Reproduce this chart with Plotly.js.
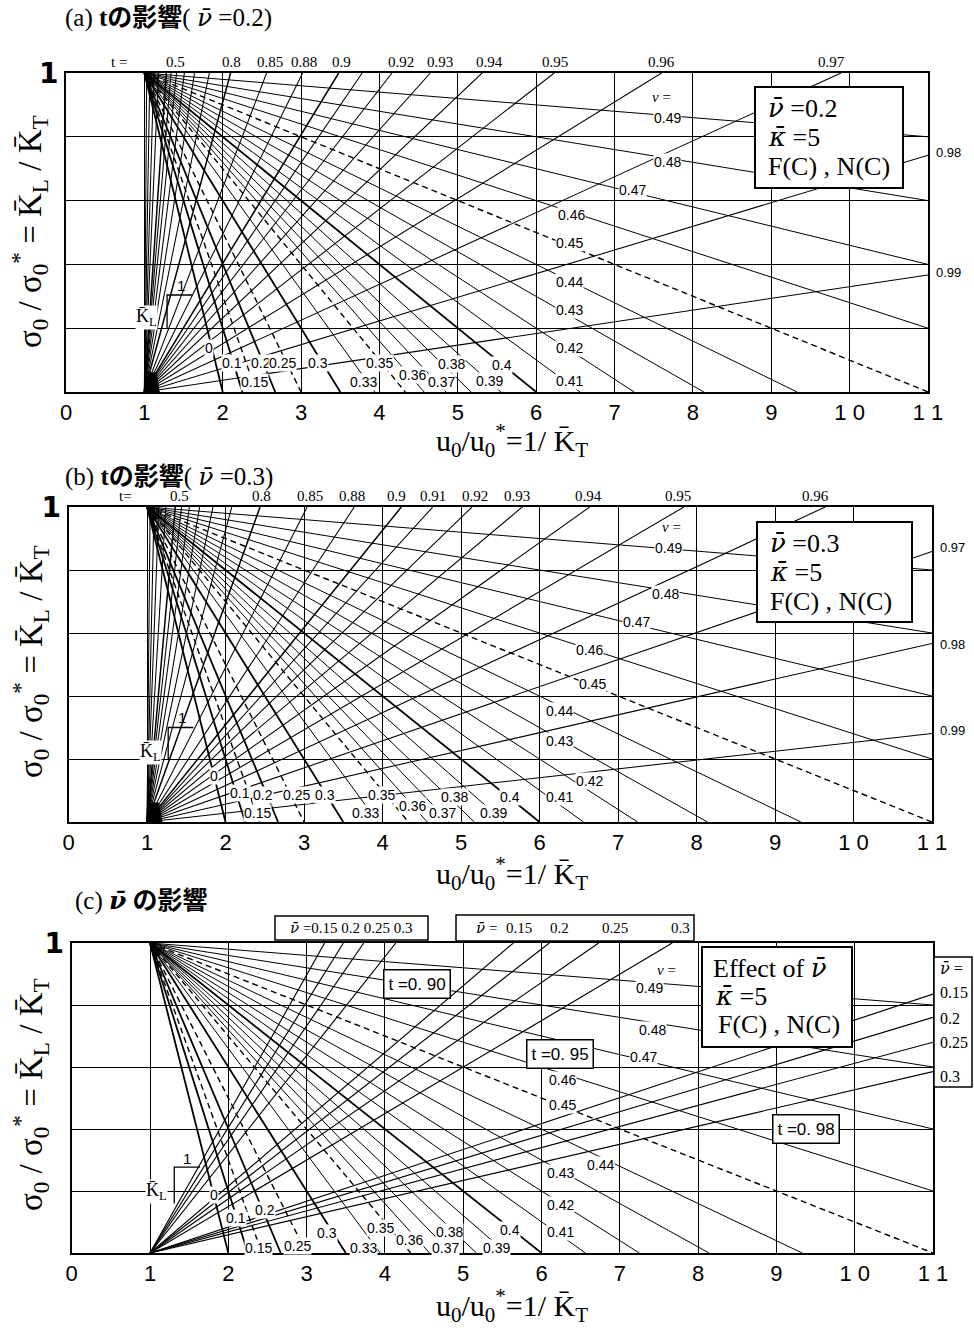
<!DOCTYPE html>
<html><head><meta charset="utf-8">
<script src="https://cdn.plot.ly/plotly-3.0.1.min.js"></script>
<style>body{margin:0;background:#fff}#chart{width:974px;height:1328px}</style>
</head><body><div id="chart"></div>
<script>
// ---------- data ----------
// nu lines start at (1,1); end points read where each line leaves the frame
const nuValues = [0,0.1,0.15,0.2,0.25,0.3,0.33,0.35,0.36,0.37,0.38,0.39,0.4,0.41,0.42,0.43,0.44,0.45,0.46,0.47,0.48,0.49];
const nuEndX   = [2,2.25,2.43,2.67,3,3.5,3.94,4.33,4.57,4.85,5.17,5.55,6,6.56,7.25,8.14,9.33,11,11,11,11,11];
const nuEndY   = [0,0,0,0,0,0,0,0,0,0,0,0,0,0,0,0,0,0,0.2,0.4,0.6,0.8];
const nuBold   = [0,0.1,0.2,0.3,0.4];
const nuDashed = [0.15,0.25,0.35,0.45];

// t lines start at (1,0)
const tValuesA = [0.1,0.2,0.3,0.4,0.5,0.55,0.6,0.65,0.7,0.75,0.8,0.85,0.88,0.9,0.91,0.92,0.93,0.94,0.95,0.96,0.97,0.98,0.99];
const tEndXA   = [1.03,1.07,1.12,1.18,1.28,1.34,1.41,1.51,1.64,1.83,2.10,2.56,3.02,3.48,3.78,4.16,4.65,5.31,6.23,7.60,9.89,11,11];
const tEndYA   = [1,1,1,1,1,1,1,1,1,1,1,1,1,1,1,1,1,1,1,1,1,0.742,0.367];

const tValuesB = [0.1,0.2,0.3,0.4,0.5,0.55,0.6,0.65,0.7,0.75,0.8,0.85,0.88,0.9,0.91,0.92,0.93,0.94,0.95,0.96,0.97,0.98,0.99];
const tEndXB   = [1.04,1.09,1.15,1.24,1.36,1.44,1.54,1.67,1.84,2.08,2.44,3.04,3.64,4.24,4.64,5.14,5.78,6.64,7.84,9.64,11,11,11];
const tEndYB   = [1,1,1,1,1,1,1,1,1,1,1,1,1,1,1,1,1,1,1,1,0.859,0.567,0.281];

// panel (c): nu-bar = 0.15, 0.2, 0.25, 0.3 for t = 0.90, 0.95, 0.98
const nuBarC   = [0.15,0.2,0.25,0.3];
const tC       = [0.90,0.95,0.98];
const tEndXC   = [[3.23,3.47,3.73,4.14],[5.64,6.10,6.73,7.67],[11,11,11,11]];
const tEndYC   = [[1,1,1,1],[1,1,1,1],[0.835,0.76,0.68,0.585]];

// tick labels
const xTickVals = [0,1,2,3,4,5,6,7,8,9,10,11];
const xTickText = ['0','1','2','3','4','5','6','7','8','9','1 0','1 1'];
const yTickVals = [1];
const yTickText = ['1'];
const yGridVals = [0.2,0.4,0.6,0.8];

// t labels along the top / right edge
const topLabA = ['t =','0.5','0.8','0.85','0.88','0.9','0.92','0.93','0.94','0.95','0.96','0.97'];
const topLabB = ['t=','0.5','0.8','0.85','0.88','0.9','0.91','0.92','0.93','0.94','0.95','0.96'];
const rightLabA = ['0.98','0.99'];
const rightLabB = ['0.97','0.98','0.99'];

// ---------- label placement (layout only) ----------
const topLabPosA = [0.68,1.40,2.11,2.60,3.04,3.52,4.28,4.77,5.41,6.24,7.60,9.77];
const topLabPosB = [0.72,1.42,2.46,3.08,3.61,4.18,4.64,5.18,5.71,6.62,7.76,9.51];
const rightLabPosA = [0.752,0.376];
const rightLabPosB = [0.87,0.565,0.289];
const nuLabX = {
  a:[1.83,2.12,2.40,2.49,2.76,3.21,3.80,4.00,4.42,4.79,4.92,5.41,5.57,6.43,6.43,6.43,6.43,6.43,6.45,7.23,7.68,7.68],
  b:[1.85,2.18,2.41,2.48,2.90,3.27,3.78,3.99,4.38,4.76,4.92,5.42,5.62,6.26,6.64,6.26,6.26,6.67,6.64,7.24,7.60,7.64],
  c:[1.82,2.10,2.38,2.47,2.88,3.26,3.73,3.94,4.32,4.77,4.83,5.43,5.60,6.24,6.24,6.24,6.75,6.27,6.27,7.30,7.42,7.38]};
const nuLabY = {
  a:[0.138,0.091,0.031,0.091,0.091,0.091,0.031,0.091,0.053,0.031,0.088,0.034,0.085,0.034,0.138,0.257,0.345,0.467,0.555,0.633,0.721,0.859],
  b:[0.146,0.092,0.029,0.086,0.086,0.086,0.029,0.086,0.051,0.029,0.079,0.029,0.079,0.079,0.130,0.257,0.352,0.438,0.546,0.635,0.724,0.870],
  c:[0.187,0.113,0.016,0.139,0.023,0.065,0.016,0.081,0.042,0.016,0.068,0.016,0.074,0.068,0.155,0.258,0.284,0.477,0.558,0.632,0.719,0.855]};

// ---------- build ----------
const traces = [];
const annotations = [];
const shapes = [];
const SANS = 'Liberation Sans, Arial, sans-serif';
const SERIF = 'Liberation Serif, Times New Roman, Noto Sans CJK JP, serif';
const NUB = '<span style="font-family:DejaVu Serif"><i>\u03BD\u0304</i></span>';
const KAB = '<span style="font-family:DejaVu Serif"><i>\u03BA\u0304</i></span>';
const KB = 'K\u0304';
const P = (px, py) => ({x:px/974, y:1-py/1328});   // page pixel -> paper fraction

function nuStyle(v){
  if (nuDashed.includes(v)) return {color:'#000', width:1.4, dash:'6px,4px'};
  if (nuBold.includes(v)) return {color:'#000', width:1.8};
  return {color:'#000', width:1.0};
}
function line(xa, ya, x, y, style){
  traces.push({x:x, y:y, mode:'lines', line:style, xaxis:xa, yaxis:ya, hoverinfo:'skip', showlegend:false});
}
function ann(o){ annotations.push(Object.assign({showarrow:false, xanchor:'center', yanchor:'middle',
  font:{family:SANS,size:13,color:'#000'}}, o)); }
function pann(px, py, text, font, extra){ const q = P(px,py);
  ann(Object.assign({xref:'paper', yref:'paper', x:q.x, y:q.y, text:text, font:font}, extra||{})); }
function prect(x0,y0,x1,y1,w){ shapes.push({type:'rect', xref:'paper', yref:'paper', x0:x0/974, x1:x1/974,
  y0:1-y1/1328, y1:1-y0/1328, line:{color:'#000', width:w}, fillcolor:'#fff', layer:'above'}); }

const panels = [
  {k:'a', xa:'x', ya:'y', tv:tValuesA, tx:tEndXA, ty:tEndYA},
  {k:'b', xa:'x2', ya:'y2', tv:tValuesB, tx:tEndXB, ty:tEndYB},
  {k:'c', xa:'x3', ya:'y3'}
];

panels.forEach(p => {
  if (p.tv) {
    p.tv.forEach((t,i) => line(p.xa, p.ya, [1, p.tx[i]], [0, p.ty[i]], {color:'#000', width:([0.5,0.8,0.9].includes(t)?1.5:1.05)}));
  } else {
    tC.forEach((t,j) => nuBarC.forEach((nb,i) => line(p.xa, p.ya, [1, tEndXC[j][i]], [0, tEndYC[j][i]], {color:'#000', width:1.15})));
  }
  nuValues.forEach((v,i) => line(p.xa, p.ya, [1, nuEndX[i]], [1, nuEndY[i]], nuStyle(v)));
  nuValues.forEach((v,i) => ann({xref:p.xa, yref:p.ya, x:nuLabX[p.k][i], y:nuLabY[p.k][i], text:String(v),
      bgcolor:'#fff', borderpad:0, font:{family:SANS, size:14, color:'#000'}}));
});

// "nu =" headers
ann({xref:'x', yref:'y', x:7.6, y:0.925, text:'<i>\u03BD</i> =', font:{family:SERIF,size:15,color:'#000'}});
ann({xref:'x2', yref:'y2', x:7.68, y:0.935, text:'<i>\u03BD</i> =', font:{family:SERIF,size:15,color:'#000'}});
ann({xref:'x3', yref:'y3', x:7.59, y:0.913, text:'<i>\u03BD</i> =', font:{family:SERIF,size:15,color:'#000'}});

// top / right t labels
topLabA.forEach((s,i)=>ann({xref:'x', yref:'y', x:topLabPosA[i], y:1, yanchor:'bottom', yshift:1, text:s, font:{family:SERIF,size:15,color:'#000'}}));
topLabB.forEach((s,i)=>ann({xref:'x2', yref:'y2', x:topLabPosB[i], y:1, yanchor:'bottom', yshift:1, text:s, font:{family:SERIF,size:15,color:'#000'}}));
rightLabA.forEach((s,i)=>ann({xref:'x', yref:'y', x:11, xanchor:'left', xshift:6, y:rightLabPosA[i], text:s, font:{family:SANS,size:13,color:'#000'}}));
rightLabB.forEach((s,i)=>ann({xref:'x2', yref:'y2', x:11, xanchor:'left', xshift:6, y:rightLabPosB[i], text:s, font:{family:SANS,size:13,color:'#000'}}));

// panel (c) boxes for nu-bar
const smallSerif = {family:SERIF,size:15,color:'#000'};
prect(275,916,428,940,1.5);
pann(351,928, NUB+' =0.15 0.2 0.25 0.3', smallSerif);
prect(456,915,694,941,1.5);
[[NUB+' =',486],['0.15',519],['0.2',559],['0.25',615],['0.3',680]].forEach(a=> pann(a[1],928,a[0],smallSerif));
prect(934,957,972,1087,1.5);
[[NUB+' =',968],['0.15',992],['0.2',1018],['0.25',1042],['0.3',1076]].forEach(a=>
  pann(938,a[1],a[0],{family:SERIF,size:16,color:'#000'},{xanchor:'left'}));
[['t =0. 90',4.41,0.868],['t =0. 95',6.24,0.642],['t =0. 98',9.38,0.40]].forEach(a=>
  ann({xref:'x3', yref:'y3', x:a[1], y:a[2], text:a[0], font:{family:SANS,size:17,color:'#000'},
       bordercolor:'#000', borderwidth:1.5, borderpad:4, bgcolor:'#fff'}));

// legend-like boxes
const boxFont = {family:SERIF, size:26, color:'#000'};
prect(755,87,903,188,2);
pann(766,108, NUB+' =0.2', boxFont, {xanchor:'left'});
pann(766,137, KAB+' =5', boxFont, {xanchor:'left'});
pann(766,166, 'F(C) , N(C)', boxFont, {xanchor:'left'});
prect(757,522,912,622,2);
pann(768,543, NUB+' =0.3', boxFont, {xanchor:'left'});
pann(768,572, KAB+' =5', boxFont, {xanchor:'left'});
pann(768,601, 'F(C) , N(C)', boxFont, {xanchor:'left'});
prect(702,947,852,1047,2);
pann(711,968, 'Effect of '+NUB, boxFont, {xanchor:'left'});
pann(713,996, KAB+' =5', boxFont, {xanchor:'left'});
pann(716,1024, 'F(C) , N(C)', boxFont, {xanchor:'left'});

// slope brackets "1" / K_L and dense blob at the fan origin
[['x','y',1.61,1.29,0.304,0.2,1.47,0.335,1.03,0.235],
 ['x2','y2',1.59,1.27,0.30,0.2,1.45,0.333,1.04,0.22],
 ['x3','y3',1.64,1.31,0.277,0.16,1.47,0.305,1.08,0.20]].forEach(b=>{
  shapes.push({type:'path', xref:b[0], yref:b[1], path:`M ${b[2]},${b[4]} L ${b[3]},${b[4]} L ${b[3]},${b[5]}`, line:{color:'#000',width:1.3}});
  ann({xref:b[0], yref:b[1], x:b[6], y:b[7], text:'1', font:{family:SANS,size:15,color:'#000'}});
  ann({xref:b[0], yref:b[1], x:b[8], y:b[9], text:KB+'<sub>L</sub>', bgcolor:'#fff', borderpad:0, font:{family:SERIF,size:18,color:'#000'}});
});
['x','x2'].forEach((xa,i)=>{
  const ya = i===0?'y':'y2';
  shapes.push({type:'path', xref:xa, yref:ya, path:'M 1.03,0 L 1.19,0 L 1.15,0.06 L 1.05,0.06 Z', fillcolor:'#000', line:{color:'#000',width:1}});
});

// panel titles
const titleFont = {family:SERIF, size:25, color:'#000'};
pann(63,18, '(a) <b>t\u306E\u5F71\u97FF</b>( '+NUB+' =0.2)', titleFont, {xanchor:'left'});
pann(63,476, '(b) <b>t\u306E\u5F71\u97FF</b>( '+NUB+' =0.3)', titleFont, {xanchor:'left'});
pann(73,900, '(c) <b>'+NUB+' \u306E\u5F71\u97FF</b>', titleFont, {xanchor:'left'});

// axis titles (drawn as annotations for exact placement)
const xTitle = 'u<sub>0</sub>/u<sub>0</sub><sup>*</sup>=1/ '+KB+'<sub>T</sub>';
const yTitle = '\u03C3<sub>0</sub> / \u03C3<sub>0</sub><sup>*</sup> = '+KB+'<sub>L</sub> / '+KB+'<sub>T</sub>';
[[440,232],[873,662],[1305,1095]].forEach(p=>{
  pann(512, p[0], xTitle, {family:SERIF, size:30, color:'#000'});
  pann(30, p[1], yTitle, {family:SERIF, size:33, color:'#000'}, {textangle:-90});
});

function xaxis(dom){ return {domain:dom, range:[0,11], tickvals:xTickVals, ticktext:xTickText, showgrid:true,
  gridcolor:'#000', gridwidth:1, zeroline:false, showline:true, linecolor:'#000', linewidth:2, mirror:true,
  ticks:'', tickfont:{family:SANS, size:22, color:'#000'}, fixedrange:true}; }
function yaxis(dom, xa){ return {domain:dom, anchor:xa, range:[0,1], tickvals:yTickVals, ticktext:yTickText, showgrid:false,
  minor:{tickvals:yGridVals, showgrid:true, gridcolor:'#000', gridwidth:1, ticks:''},
  zeroline:false, showline:true, linecolor:'#000', linewidth:2, mirror:true,
  ticks:'', tickfont:{family:'DejaVu Sans', size:28, color:'#000', weight:'bold'}, fixedrange:true}; }

const layout = {
  width:974, height:1328, margin:{l:0,r:0,t:0,b:0}, paper_bgcolor:'#fff', plot_bgcolor:'#fff', showlegend:false,
  xaxis: Object.assign(xaxis([66/974, 928/974]), {anchor:'y'}),
  yaxis: yaxis([1-392/1328, 1-73/1328], 'x'),
  xaxis2: Object.assign(xaxis([68.5/974, 932/974]), {anchor:'y2'}),
  yaxis2: yaxis([1-822/1328, 1-507/1328], 'x2'),
  xaxis3: Object.assign(xaxis([71.7/974, 933/974]), {anchor:'y3'}),
  yaxis3: yaxis([1-1253/1328, 1-943/1328], 'x3'),
  annotations: annotations, shapes: shapes
};
Plotly.newPlot('chart', traces, layout, {staticPlot:true, displayModeBar:false});
</script></body></html>
